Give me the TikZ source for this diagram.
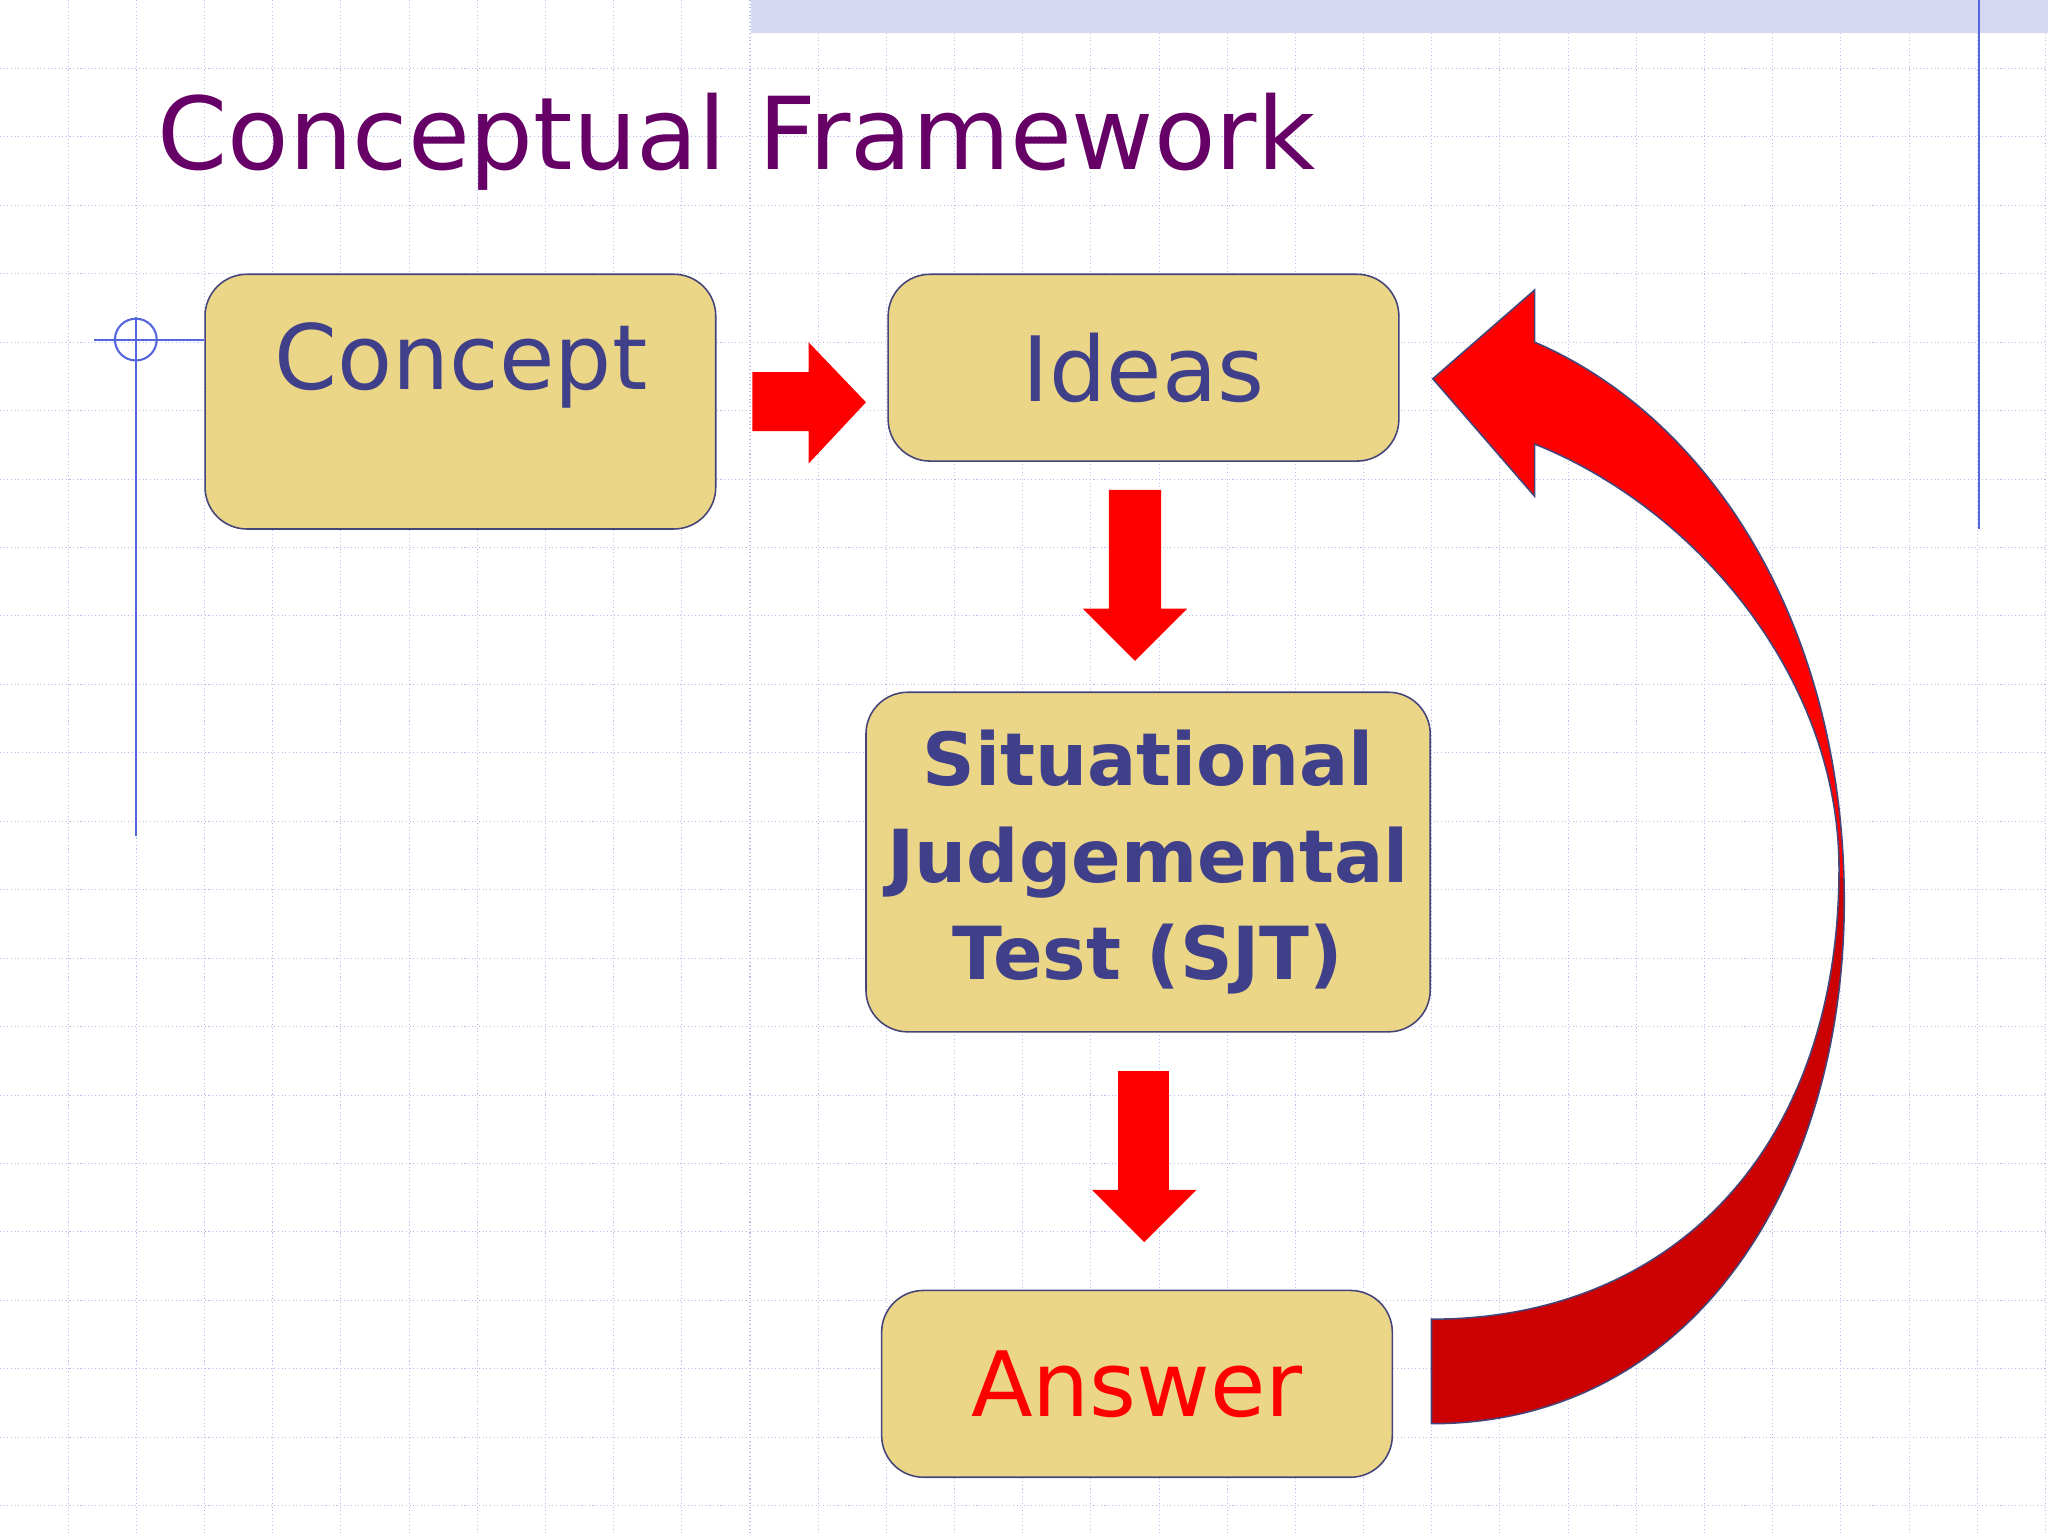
\documentclass[tikz,border=0pt]{standalone}
\usepackage{fontspec}
\setmainfont{DejaVu Sans}
\begin{document}
\begin{tikzpicture}[x=0.5pt,y=-0.5pt,
  box/.style={draw=boxline,fill=boxfill,rounded corners=16pt,line width=0.6pt},
  lbl/.style={text=navy,inner sep=0pt},
  blk/.style={fill=red,draw=none}]
\definecolor{boxfill}{HTML}{EBD687}
\definecolor{boxline}{HTML}{45457A}
\definecolor{navy}{HTML}{3F3F8A}
\definecolor{ttl}{HTML}{660066}
\definecolor{gridc}{HTML}{B8BEEA}
\definecolor{deco}{HTML}{5566DD}
\useasboundingbox (0,0) rectangle (1568,1176);
\fill[white] (0,0) rectangle (1568,1176);
\foreach \i in {1,...,30} {\draw[gridc,densely dotted,line width=0.4pt] ({\i*52.2},0) -- ({\i*52.2},1176);}
\foreach \i in {1,...,22} {\draw[gridc,densely dotted,line width=0.4pt] (0,{\i*52.4}) -- (1568,{\i*52.4});}
\fill[gridc!60] (575,0) rectangle (1568,25);
\draw[deco,line width=0.8pt] (1515,0) -- (1515,405);
\draw[deco,line width=0.8pt] (72,260) -- (156,260) (104,243) -- (104,640);
\draw[deco,line width=0.8pt] (104,260) circle[radius=8pt];
\node[anchor=base west,text=ttl,inner sep=0pt,font=\fontsize{38.5}{46}\selectfont] (title) at (120,130) {Conceptual Framework};
\node[box,minimum width=195.5pt,minimum height=97.5pt] (concept) at (352.5,307.5) {};
\node[lbl,font=\fontsize{34.5}{40}\selectfont] (conceptt) at (353,280) {Concept};
\node[box,minimum width=195.5pt,minimum height=71.5pt] (ideas) at (875.5,281.5) {\fontsize{34.5}{40}\selectfont\color{navy}Ideas};
\node[box,minimum width=216pt,minimum height=130pt,align=center,font=\bfseries\fontsize{28}{37}\selectfont,text=navy] (sjt) at (879,660) {Situational\\Judgemental\\Test (SJT)};
\node[box,minimum width=195.5pt,minimum height=71.5pt] (answer) at (870.5,1059.5) {\fontsize{34.5}{40}\selectfont\color{red}Answer};
% straight arrows
\fill[blk] (576,285) -- (619,285) -- (619,262) -- (663,308) -- (619,355) -- (619,330) -- (576,330) -- cycle;
\fill[blk] (849,375) -- (889,375) -- (889,466) -- (909,466) -- (869,506) -- (829,466) -- (849,466) -- cycle;
\fill[blk] (856,820) -- (895,820) -- (895,911) -- (916,911) -- (876,951) -- (836,911) -- (856,911) -- cycle;
% curved arrow
\def\curvepath{(1096,1010) -- (1096,1090) .. controls (1300,1090) and (1412,900) .. (1412,690) .. controls (1412,480) and (1310,320) .. (1175,262) -- (1175,222) -- (1097,290) -- (1175,380) -- (1175,340) .. controls (1300,390) and (1408,520) .. (1408,665) .. controls (1408,880) and (1280,1010) .. (1096,1010) -- cycle}
\fill[red] \curvepath;
\begin{scope}
\clip (1090,672) rectangle (1420,1100);
\fill[red!80!black] \curvepath;
\end{scope}
\draw[boxline,line width=0.6pt] \curvepath;
\end{tikzpicture}
\end{document}
